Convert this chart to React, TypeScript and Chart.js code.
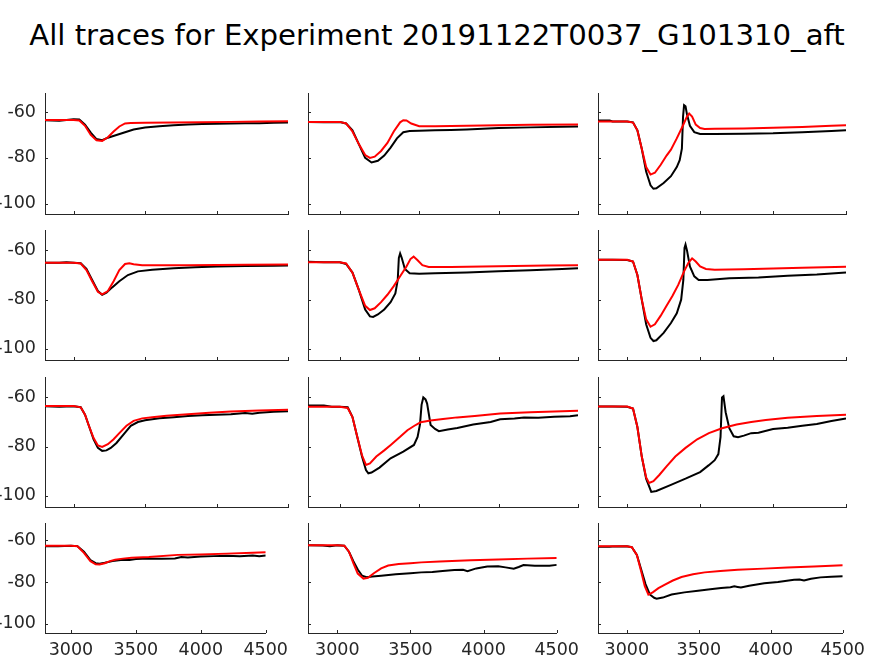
import React, { useEffect, useRef } from "react";
import { Chart, registerables } from "chart.js";
Chart.register(...registerables);

const TITLE = "All traces for Experiment 20191122T0037_G101310_aft";
const X_TICKS = [3000, 3500, 4000, 4500];
const Y_TICKS = [-100, -80, -60];
const X_MIN = 2800;
const X_MAX = 4500;
const Y_MIN = -104.5;
const Y_MAX = -51.7;

// Row 1
const p11_bx = [2800, 2900, 2950, 3000, 3040, 3080, 3120, 3160, 3200, 3240, 3300, 3360, 3420, 3500, 3600, 3700, 3800, 3900, 4000, 4100, 4200, 4300, 4400, 4500];
const p11_by = [-63.6, -63.8, -63.5, -63.2, -63.3, -65.5, -69, -71.8, -72.3, -71.2, -70, -68.8, -67.6, -66.8, -66.2, -65.8, -65.4, -65.2, -65.1, -65, -64.9, -64.9, -64.7, -64.6];
const p11_rx = [2800, 3000, 3040, 3080, 3120, 3160, 3200, 3240, 3280, 3320, 3360, 3400, 3500, 3700, 3900, 4100, 4300, 4500];
const p11_ry = [-63.5, -63.5, -63.7, -66, -70, -72.3, -72.6, -71, -68.5, -66.3, -65, -64.8, -64.7, -64.6, -64.5, -64.3, -64.1, -64];

const p12_bx = [2800, 2900, 3000, 3040, 3080, 3120, 3160, 3200, 3240, 3280, 3320, 3360, 3400, 3440, 3500, 3600, 3700, 3800, 3900, 4000, 4200, 4400, 4500];
const p12_by = [-64.3, -64.5, -64.4, -65, -68, -74, -80, -82, -81.3, -79, -75.5, -71.5, -68.8, -68.3, -68.2, -68, -67.8, -67.6, -67.3, -67, -66.7, -66.4, -66.3];
const p12_rx = [2800, 3000, 3040, 3080, 3120, 3160, 3190, 3220, 3260, 3300, 3340, 3380, 3400, 3420, 3450, 3500, 3600, 3800, 4000, 4200, 4500];
const p12_ry = [-64.3, -64.3, -65, -68.5, -74, -78.8, -80, -79.5, -77, -73.5, -68.5, -64.5, -63.6, -63.7, -65, -66.2, -66.2, -66, -65.8, -65.6, -65.4];

const p13_bx = [2800, 2880, 2900, 3000, 3040, 3070, 3100, 3130, 3160, 3180, 3200, 3250, 3300, 3340, 3360, 3375, 3383, 3390, 3400, 3410, 3430, 3460, 3500, 3600, 3800, 4000, 4200, 4400, 4500];
const p13_by = [-63.7, -63.7, -64.1, -64.1, -64.5, -68, -76, -86, -92, -93.5, -93.3, -91, -88, -84, -81, -76, -62, -57, -57.5, -61, -66, -68.8, -69.6, -69.6, -69.5, -69.3, -68.8, -68.3, -68];
const p13_rx = [2800, 3000, 3040, 3070, 3100, 3130, 3160, 3190, 3230, 3270, 3300, 3340, 3380, 3410, 3425, 3445, 3470, 3500, 3530, 3600, 3800, 4000, 4200, 4400, 4500];
const p13_ry = [-64.1, -64.1, -64.6, -68, -76, -84, -87.3, -86.5, -83, -79, -76.4, -71.5, -66.2, -62, -60.7, -62, -65.5, -67, -67.4, -67.3, -67.2, -66.9, -66.5, -66, -65.8];

// Row 2
const p21_bx = [2800, 2900, 2950, 3000, 3050, 3090, 3130, 3170, 3200, 3230, 3270, 3320, 3380, 3450, 3550, 3700, 3850, 4000, 4200, 4400, 4500];
const p21_by = [-65, -65, -64.8, -65, -65.2, -67.5, -72, -76.5, -78, -77.2, -75, -72.5, -70, -68.5, -67.8, -67.2, -66.8, -66.5, -66.3, -66.2, -66.1];
const p21_rx = [2800, 3000, 3050, 3090, 3130, 3170, 3200, 3240, 3280, 3320, 3360, 3390, 3420, 3480, 3600, 3800, 4000, 4200, 4500];
const p21_ry = [-65, -65, -65.3, -68, -72.5, -76.8, -77.8, -76.5, -72.5, -68, -65.5, -65.2, -65.6, -66, -66, -66, -65.9, -65.8, -65.7];

const p22_bx = [2800, 2900, 3000, 3040, 3080, 3120, 3160, 3190, 3210, 3240, 3280, 3320, 3350, 3365, 3372, 3380, 3390, 3410, 3440, 3500, 3600, 3800, 4000, 4200, 4400, 4500];
const p22_by = [-64.6, -64.8, -64.8, -65.5, -69, -76, -84, -86.8, -87, -86, -84, -81, -77.5, -72, -63, -61.2, -63, -67.5, -69.3, -69.5, -69.3, -69, -68.5, -68, -67.5, -67.2];
const p22_rx = [2800, 3000, 3040, 3080, 3120, 3160, 3190, 3220, 3260, 3300, 3340, 3380, 3420, 3445, 3465, 3490, 3520, 3560, 3700, 3900, 4100, 4300, 4500];
const p22_ry = [-64.8, -64.8, -65.3, -69, -76, -82.5, -84.2, -83.5, -81, -78, -74.5, -70.5, -66.5, -63.5, -62.5, -64, -66, -66.7, -66.7, -66.5, -66.3, -66.1, -66];

const p23_bx = [2800, 2900, 3000, 3040, 3070, 3100, 3130, 3160, 3180, 3200, 3250, 3300, 3340, 3370, 3385, 3393, 3400, 3410, 3430, 3460, 3490, 3550, 3700, 3900, 4100, 4300, 4500];
const p23_by = [-63.8, -63.8, -63.9, -64.5, -70, -80, -90, -95.5, -96.8, -96.5, -93.5, -89.5, -85.5, -80, -72, -59, -57.6, -60, -66.5, -70.5, -72, -72, -71.3, -71, -70.3, -69.8, -69];
const p23_rx = [2800, 3000, 3040, 3070, 3100, 3130, 3160, 3190, 3230, 3270, 3310, 3350, 3390, 3420, 3445, 3470, 3500, 3540, 3600, 3800, 4000, 4200, 4500];
const p23_ry = [-63.8, -63.8, -64.5, -70, -80, -88, -91, -90, -86.5, -82.5, -78.5, -74, -68.5, -65, -63.2, -64.5, -66.5, -67.5, -67.8, -67.6, -67.3, -67, -66.6];

// Row 3
const p31_bx = [2800, 2900, 3000, 3050, 3080, 3110, 3140, 3170, 3200, 3230, 3260, 3300, 3350, 3400, 3450, 3500, 3600, 3700, 3800, 3900, 4000, 4100, 4200, 4250, 4300, 4400, 4500];
const p31_by = [-63.6, -63.8, -63.6, -64, -67, -72, -77, -80.5, -81.7, -81.5, -80.5, -78.5, -75, -71.5, -70, -69.3, -68.5, -68, -67.5, -67.2, -67, -66.8, -66.3, -66.6, -66.2, -65.8, -65.6];
const p31_rx = [2800, 3000, 3050, 3080, 3110, 3140, 3170, 3200, 3240, 3280, 3320, 3370, 3420, 3480, 3550, 3650, 3800, 3950, 4100, 4300, 4500];
const p31_ry = [-63.5, -63.5, -64, -67, -72, -76.5, -79.5, -80.1, -79, -77, -74.5, -71.5, -69.5, -68.5, -68, -67.4, -66.8, -66.2, -65.7, -65.3, -65];

const p32_bx = [2800, 2900, 2950, 3000, 3050, 3080, 3110, 3140, 3165, 3180, 3200, 3250, 3320, 3400, 3467, 3490, 3505, 3515, 3526, 3540, 3550, 3572, 3600, 3624, 3680, 3740, 3840, 3950, 4010, 4100, 4160, 4250, 4350, 4450, 4500];
const p32_by = [-63.3, -63.3, -63.8, -63.8, -64, -68, -76, -84, -89.5, -90.8, -90.5, -88.5, -84.7, -82, -79.3, -76, -71, -63, -60, -60.8, -62.5, -71.2, -72.8, -73.7, -73, -72.4, -71, -70, -68.9, -68.6, -68.2, -68.3, -67.8, -67.6, -67.2];
const p32_rx = [2800, 3000, 3050, 3080, 3110, 3140, 3165, 3190, 3230, 3280, 3321, 3380, 3426, 3470, 3509, 3572, 3650, 3739, 3850, 4010, 4200, 4400, 4500];
const p32_ry = [-63.8, -63.8, -64.3, -68, -76, -83.5, -87.4, -86.8, -84, -81.5, -79.3, -76, -73.3, -71.5, -70.1, -69.4, -68.8, -68.1, -67.5, -66.5, -66, -65.6, -65.4];

const p33_bx = [2800, 2900, 3000, 3040, 3070, 3100, 3130, 3165, 3200, 3300, 3400, 3500, 3560, 3600, 3625, 3640, 3650, 3660, 3675, 3700, 3730, 3760, 3800, 3850, 3900, 4000, 4100, 4200, 4300, 4400, 4500];
const p33_by = [-63.7, -63.7, -63.8, -64.5, -72, -84, -93, -98.4, -98, -95.5, -93, -90.3, -87.5, -85.5, -83, -76, -60, -59.5, -66, -72.5, -75.8, -76.2, -75.5, -74.5, -74.3, -72.8, -72.3, -71.5, -70.8, -69.6, -68.5];
const p33_rx = [2800, 3000, 3040, 3070, 3100, 3130, 3150, 3180, 3220, 3270, 3330, 3400, 3480, 3560, 3650, 3750, 3850, 3950, 4100, 4300, 4500];
const p33_ry = [-63.7, -63.7, -64.5, -72, -84, -92.5, -94.7, -94, -91.5, -88, -84, -80.5, -77, -74.5, -72.5, -71, -70, -69.2, -68.3, -67.5, -67];

// Row 4
const p41_bx = [2800, 2900, 3000, 3050, 3100, 3150, 3190, 3220, 3260, 3320, 3400, 3450, 3500, 3600, 3700, 3800, 3850, 3900, 4000, 4100, 4200, 4300, 4400, 4450, 4500];
const p41_by = [-62.8, -62.9, -62.6, -62.8, -65.5, -69.5, -71, -71.2, -70.8, -70, -69.3, -69.5, -69, -68.8, -68.8, -68.7, -68, -68.2, -67.8, -67.6, -67.4, -67.7, -67.3, -67.6, -67.3];
const p41_rx = [2800, 3000, 3050, 3100, 3150, 3190, 3220, 3260, 3300, 3340, 3400, 3467, 3600, 3823, 4000, 4200, 4400, 4500];
const p41_ry = [-62.6, -62.6, -62.9, -66, -70, -71.5, -71.6, -71, -70, -69.3, -68.8, -68.4, -68, -67, -66.8, -66.4, -66, -65.7];

const p42_bx = [2800, 2900, 2950, 3000, 3048, 3080, 3110, 3140, 3170, 3200, 3240, 3300, 3400, 3500, 3573, 3650, 3720, 3800, 3860, 3890, 3950, 4025, 4100, 4150, 4206, 4240, 4273, 4350, 4450, 4500];
const p42_by = [-62.4, -62.5, -62.8, -62.4, -62.6, -65.5, -70, -74, -77, -77.7, -77.4, -77, -76.3, -75.8, -75.4, -75.2, -74.7, -74.3, -74.2, -74.8, -73.5, -72.6, -72.5, -73, -73.6, -72.8, -71.9, -72.2, -72.2, -71.8];
const p42_rx = [2800, 3000, 3048, 3080, 3110, 3140, 3179, 3210, 3250, 3300, 3348, 3420, 3500, 3573, 3700, 3912, 4100, 4300, 4500];
const p42_ry = [-62.4, -62.4, -62.6, -65.5, -71, -76, -78.4, -78, -75.8, -73.5, -72.1, -71.4, -71, -70.6, -70.2, -69.6, -69.2, -68.8, -68.5];

const p43_bx = [2800, 2880, 2900, 3000, 3035, 3070, 3100, 3130, 3160, 3190, 3207, 3250, 3311, 3400, 3495, 3580, 3655, 3720, 3747, 3770, 3793, 3850, 3955, 4050, 4162, 4200, 4231, 4280, 4345, 4420, 4500];
const p43_by = [-63.1, -63.1, -63, -62.9, -63.3, -67, -74, -81, -86, -87.6, -88, -87.5, -86, -85, -84.2, -83.5, -82.9, -82.5, -82.1, -82.4, -82.7, -81.8, -80.6, -80, -78.9, -78.8, -79.3, -78.5, -77.8, -77.5, -77.3];
const p43_rx = [2800, 3000, 3035, 3070, 3100, 3125, 3150, 3180, 3220, 3265, 3320, 3380, 3460, 3541, 3650, 3771, 3950, 4116, 4300, 4500];
const p43_ry = [-62.9, -62.9, -63.3, -67, -75, -82, -86.1, -85, -83, -81.3, -79.3, -77.6, -76.3, -75.4, -74.7, -74.1, -73.6, -73.1, -72.6, -72];

const SERIES = [
  [p11_bx, p11_by, p11_rx, p11_ry], [p12_bx, p12_by, p12_rx, p12_ry], [p13_bx, p13_by, p13_rx, p13_ry],
  [p21_bx, p21_by, p21_rx, p21_ry], [p22_bx, p22_by, p22_rx, p22_ry], [p23_bx, p23_by, p23_rx, p23_ry],
  [p31_bx, p31_by, p31_rx, p31_ry], [p32_bx, p32_by, p32_rx, p32_ry], [p33_bx, p33_by, p33_rx, p33_ry],
  [p41_bx, p41_by, p41_rx, p41_ry], [p42_bx, p42_by, p42_rx, p42_ry], [p43_bx, p43_by, p43_rx, p43_ry],
];

// Layout (pixel boxes of each axes)
const COL_L = [45, 308, 598];
const COL_R = [288, 578, 846];
const COL_R_LAST_ROW = [269, 560, 846];
const ROW_T = [93, 230, 377, 523];
const ROW_B = [214, 360, 507, 633];

const AXIS_COLOR = "#262626";
const FONT = "'DejaVu Sans', 'Liberation Sans', sans-serif";
const TICK_FONT_SIZE = 17.5;

const inwardTicks = {
  id: "inwardTicks",
  afterDatasetsDraw(chart: any) {
    const { ctx, chartArea, scales } = chart;
    const xs = scales.x;
    const ys = scales.y;
    ctx.save();
    ctx.strokeStyle = AXIS_COLOR;
    ctx.lineWidth = 1;
    ctx.beginPath();
    xs.ticks.forEach((_t: any, i: number) => {
      const px = Math.round(xs.getPixelForTick(i)) + 0.5;
      ctx.moveTo(px, chartArea.bottom);
      ctx.lineTo(px, chartArea.bottom - 3);
    });
    ys.ticks.forEach((_t: any, i: number) => {
      const py = Math.round(ys.getPixelForTick(i)) + 0.5;
      ctx.moveTo(chartArea.left, py);
      ctx.lineTo(chartArea.left + 3, py);
    });
    ctx.stroke();
    ctx.restore();
  },
};

function toPts(xs: number[], ys: number[]) {
  return xs.map((x, i) => ({ x, y: ys[i] }));
}

function Panel({ row, col }: { row: number; col: number }) {
  const ref = useRef<HTMLCanvasElement>(null);
  const showY = col === 0;
  const showX = row === 3;
  const l = COL_L[col];
  const r = row === 3 ? COL_R_LAST_ROW[col] : COL_R[col];
  const t = ROW_T[row];
  const b = ROW_B[row];
  const L = showY ? l : 8;
  const T = 24;
  const R = 26;
  const B = showX ? 656 - b : 24;
  const width = r - l + L + R;
  const height = b - t + T + B;

  useEffect(() => {
    const [bx, by, rx, ry] = SERIES[row * 3 + col];
    const chart = new Chart(ref.current as HTMLCanvasElement, {
      type: "line",
      data: {
        datasets: [
          { label: "model", data: toPts(rx, ry), borderColor: "#ff0000", borderWidth: 2, pointRadius: 0, tension: 0, fill: false },
          { label: "data", data: toPts(bx, by), borderColor: "#000000", borderWidth: 2, pointRadius: 0, tension: 0, fill: false },
        ],
      },
      options: {
        animation: false,
        responsive: false,
        maintainAspectRatio: false,
        layout: { padding: { top: T, right: R, left: 0, bottom: 0 } },
        plugins: { legend: { display: false }, tooltip: { enabled: false }, title: { display: false } },
        scales: {
          x: {
            type: "linear",
            min: X_MIN,
            max: X_MAX,
            afterBuildTicks: (s: any) => { s.ticks = X_TICKS.map((v) => ({ value: v })); },
            afterFit: (s: any) => { s.height = B; },
            grid: { display: true, drawOnChartArea: false, drawTicks: false },
            border: { display: true, color: AXIS_COLOR, width: 1 },
            ticks: {
              display: showX,
              autoSkip: false,
              maxRotation: 0,
              padding: 7,
              color: AXIS_COLOR,
              font: { family: FONT, size: TICK_FONT_SIZE },
              callback: (v: any) => String(v),
            },
          },
          y: {
            type: "linear",
            min: Y_MIN,
            max: Y_MAX,
            afterBuildTicks: (s: any) => { s.ticks = Y_TICKS.map((v) => ({ value: v })); },
            afterFit: (s: any) => { s.width = L; },
            grid: { display: true, drawOnChartArea: false, drawTicks: false },
            border: { display: true, color: AXIS_COLOR, width: 1 },
            ticks: {
              display: showY,
              autoSkip: false,
              padding: 9,
              color: AXIS_COLOR,
              font: { family: FONT, size: TICK_FONT_SIZE },
              callback: (v: any) => String(v),
            },
          },
        },
      },
      plugins: [inwardTicks],
    } as any);
    return () => chart.destroy();
  }, [row, col]);

  return (
    <canvas
      ref={ref}
      width={width}
      height={height}
      style={{ position: "absolute", left: l - L, top: t - T, width, height }}
    />
  );
}

export default function App() {
  const panels = [];
  for (let row = 0; row < 4; row++) {
    for (let col = 0; col < 3; col++) {
      panels.push(<Panel key={`${row}-${col}`} row={row} col={col} />);
    }
  }
  return (
    <div style={{ position: "absolute", left: 0, top: 0, width: 874, height: 656, overflow: "hidden", background: "#fff" }}>
      <div
        style={{
          position: "absolute",
          left: 0,
          top: 21,
          width: 874,
          textAlign: "center",
          fontFamily: FONT,
          fontSize: 29.2,
          lineHeight: "29px",
          color: "#000",
          whiteSpace: "nowrap",
        }}
      >
        {TITLE}
      </div>
      {panels}
    </div>
  );
}
